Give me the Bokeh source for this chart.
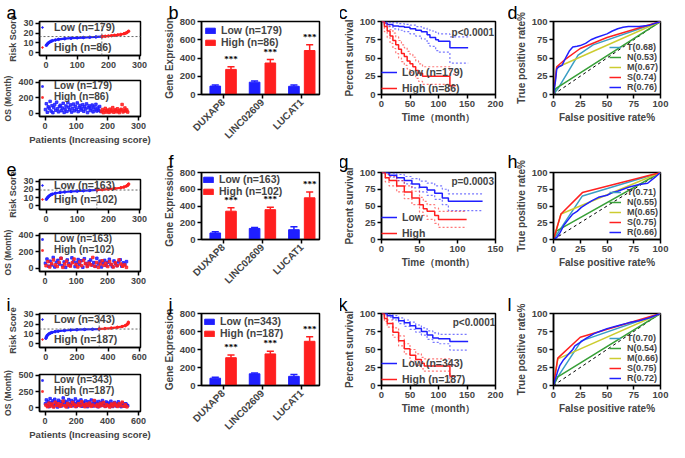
import math
from bokeh.plotting import figure
from bokeh.layouts import row, column
from bokeh.models import Legend, LegendItem, Label, Span
from bokeh.embed import file_html
from bokeh.resources import INLINE

FONT = "Liberation Sans"
BLUE = "#1f1fff"
RED = "#ff1f1f"

# ---------------- data ----------------
# risk score curves (patient index, score)
a_low_x = [1, 3, 6, 10, 15, 20, 30, 40, 60, 80, 100, 120, 140, 160, 179]
a_low_y = [7.5, 8.3, 9.5, 10.5, 11.5, 12.2, 13, 13.6, 14.3, 14.8, 15.2, 15.5, 15.8, 16.1, 16.5]
a_high_x = [180, 190, 200, 210, 220, 230, 240, 250, 255, 260, 265]
a_high_y = [16.6, 16.8, 17.1, 17.4, 17.8, 18.2, 18.7, 19.4, 19.9, 20.7, 22]
a_cut = [179, 16.5]

e_low_x = [1, 3, 6, 10, 15, 20, 30, 45, 60, 80, 100, 120, 140, 163]
e_low_y = [8, 9, 10.5, 12, 13.3, 14.2, 15.3, 16.2, 16.8, 17.4, 17.9, 18.3, 18.7, 19.2]
e_high_x = [164, 180, 200, 220, 240, 250, 258, 262, 265]
e_high_y = [19.3, 19.7, 20.3, 21, 22, 22.8, 24, 25, 26.5]
e_cut = [163, 19.2]

i_low_x = [1, 5, 10, 20, 30, 40, 60, 80, 120, 160, 200, 250, 300, 343]
i_low_y = [5.5, 7, 8.5, 10, 10.8, 11.5, 12.3, 12.8, 13.5, 14, 14.3, 14.6, 14.8, 15]
i_high_x = [344, 380, 420, 460, 490, 510, 520, 528, 530]
i_high_y = [15.1, 15.5, 16, 16.8, 17.6, 18.5, 19.5, 20.5, 22]
i_cut = [343, 15]

# overall survival (months) per patient, every k-th patient
a_os_low = [45, 120, 10, 80, 60, 150, 25, 95, 5, 70, 110, 35, 140, 55, 15, 85, 100, 30, 65, 125,
            8, 50, 90, 20, 135, 75, 40, 105, 12, 60, 115, 28, 88, 48, 130, 18, 72, 98, 38, 62,
            108, 22, 82, 52, 118, 6, 68, 92, 32, 58, 102, 15, 78, 44, 112, 26, 66, 36, 84, 20]
a_os_high = [20, 45, 5, 30, 60, 12, 38, 25, 8, 50, 18, 33, 70, 10, 28, 42, 15, 55, 22, 6,
             35, 48, 110, 14, 30, 65, 25, 40, 12]
e_os_low = [60, 110, 25, 85, 40, 130, 15, 70, 95, 50, 120, 30, 75, 10, 100, 55, 35, 125, 80, 20,
            65, 105, 45, 90, 12, 115, 58, 28, 78, 100, 38, 68, 22, 120, 50, 85, 15, 62, 95, 33,
            72, 108, 42, 18, 88, 55, 30, 75, 102, 25, 65, 45, 80]
e_os_high = [30, 80, 15, 55, 100, 40, 20, 70, 120, 10, 50, 85, 35, 25, 65, 110, 45, 15, 75, 30,
             95, 55, 20, 60, 40, 130, 25, 70, 10, 50, 90, 35, 60, 20, 80, 45, 15, 65, 30, 100,
             50, 25, 40, 10]
i_os_low = [60, 120, 30, 90, 15, 140, 75, 45, 105, 20, 130, 55, 85, 10, 115, 40, 95, 25, 70, 150,
            50, 100, 35, 80, 12, 125, 65, 45, 110, 28, 90, 60, 135, 18, 75, 100, 40, 55, 120, 22,
            85, 65, 30, 105, 48, 15, 92, 70, 38, 118, 58, 25, 80, 100, 42, 68, 14, 95, 52, 30,
            78, 110, 36, 62, 20, 88, 48, 72, 28, 55, 100, 35, 18, 65, 80, 42, 25, 58, 90, 30,
            48, 15, 70, 38, 55, 22, 60, 40, 30]
i_os_high = [40, 15, 70, 25, 55, 10, 85, 35, 60, 20, 45, 100, 30, 12, 65, 40, 22, 80, 50, 18,
             35, 60, 28, 90, 45, 15, 55, 30, 70, 20, 40, 110, 25, 50, 15, 65, 35, 80, 20, 45,
             30, 10, 55, 25, 70, 40, 18, 60, 30, 85, 22, 45, 12]
a_os_low_x = list(range(1, 180, 3))
a_os_high_x = list(range(181, 266, 3))
e_os_low_x = list(range(1, 262, 5))
e_os_high_x = list(range(3, 265, 6))
i_os_low_x = list(range(2, 531, 6))
i_os_high_x = list(range(5, 530, 10))

# gene expression bars
genes = ["DUXAP8", "LINC02609", "LUCAT1"]
b_low, b_low_err = [92, 135, 90], [12, 12, 15]
b_high, b_high_err = [275, 345, 482], [30, 38, 62]
f_low, f_low_err = [78, 132, 117], [15, 10, 35]
f_high, f_high_err = [338, 356, 498], [42, 28, 70]
j_low, j_low_err = [81, 130, 102], [10, 10, 20]
j_high, j_high_err = [309, 351, 491], [30, 30, 52]

# Kaplan-Meier: time, survival, upper CI, lower CI
c_low = ([0, 5, 10, 20, 30, 40, 50, 60, 70, 80, 85, 95, 100, 120, 152],
         [100, 98, 96, 94, 93, 92, 90, 88, 86, 82, 78, 75, 73, 64, 64],
         [100, 100, 99, 98, 97, 96, 95, 93, 91, 89, 87, 85, 83, 79, 79],
         [100, 95, 93, 90, 88, 86, 83, 80, 76, 70, 66, 60, 58, 43, 43])
c_high = ([0, 5, 10, 15, 20, 25, 30, 35, 40, 45, 50, 55, 60, 65, 72, 120, 130],
          [100, 93, 87, 80, 74, 68, 62, 56, 52, 46, 42, 38, 33, 29, 25, 12, 12],
          [100, 98, 94, 89, 84, 79, 74, 68, 64, 59, 55, 51, 46, 42, 38, 28, 28],
          [100, 86, 78, 70, 63, 56, 50, 45, 40, 35, 30, 26, 22, 18, 14, 0, 0])
g_low = ([0, 10, 20, 30, 40, 50, 60, 70, 80, 88, 133],
         [100, 96, 92, 88, 83, 78, 74, 69, 62, 57, 57],
         [100, 99, 97, 94, 91, 87, 84, 80, 75, 68, 68],
         [100, 93, 88, 83, 77, 71, 66, 60, 52, 43, 43])
g_high = ([0, 5, 10, 20, 30, 40, 50, 55, 60, 70, 75, 112],
          [100, 92, 88, 80, 71, 62, 52, 46, 42, 36, 30, 30],
          [100, 97, 94, 88, 80, 72, 63, 57, 52, 47, 42, 42],
          [100, 86, 80, 71, 61, 52, 41, 36, 30, 24, 18, 18])
k_low = ([0, 10, 20, 30, 40, 50, 60, 70, 80, 90, 100, 118, 120, 152],
         [100, 97, 94, 90, 87, 83, 79, 75, 70, 66, 65, 65, 61, 61],
         [100, 99, 97, 94, 91, 88, 84, 80, 76, 73, 71, 71, 71, 71],
         [100, 95, 91, 86, 82, 78, 74, 70, 64, 60, 58, 58, 49, 49])
k_high = ([0, 5, 10, 20, 30, 40, 50, 60, 70, 75, 120, 130],
          [100, 93, 86, 74, 62, 51, 42, 36, 31, 27, 13, 13],
          [100, 97, 91, 80, 69, 58, 50, 44, 39, 37, 28, 28],
          [100, 89, 81, 67, 55, 44, 34, 28, 23, 20, 0, 0])

# ROC curves: (fpr, tpr)
d_roc = {
    "T": ([0, 5, 23, 37, 100], [0, 10, 54, 68, 100]),
    "N": ([0, 2, 100], [0, 8, 100]),
    "M": ([0, 3, 100], [0, 37, 100]),
    "S": ([0, 3, 10, 25, 50, 100], [0, 38, 47, 63, 78, 100]),
    "R": ([0, 2, 3, 5, 8, 12, 15, 18, 22, 25, 30, 35, 40, 50, 55, 60, 65, 70, 80, 90, 100],
          [0, 20, 35, 38, 40, 52, 60, 65, 66, 67, 70, 75, 78, 83, 87, 90, 92, 93, 93, 95, 100]),
}
h_roc = {
    "T": ([0, 5, 27, 100], [0, 12, 65, 100]),
    "N": ([0, 3, 100], [0, 13, 100]),
    "M": ([0, 7, 100], [0, 38, 100]),
    "S": ([0, 7, 27, 100], [0, 38, 70, 100]),
    "R": ([0, 3, 6, 10, 14, 18, 22, 26, 30, 36, 42, 50, 55, 60, 70, 80, 88, 95, 100],
          [0, 3, 10, 22, 30, 38, 42, 48, 52, 58, 63, 66, 70, 72, 78, 82, 84, 93, 100]),
}
l_roc = {
    "T": ([0, 4, 26, 100], [0, 12, 62, 100]),
    "N": ([0, 4, 100], [0, 12, 100]),
    "M": ([0, 4, 100], [0, 37, 100]),
    "S": ([0, 4, 25, 100], [0, 38, 67, 100]),
    "R": ([0, 2, 4, 6, 9, 12, 15, 18, 20, 25, 30, 38, 45, 50, 60, 70, 80, 90, 100],
          [0, 10, 20, 28, 35, 40, 45, 50, 55, 60, 65, 72, 76, 79, 83, 87, 90, 94, 100]),
}
d_auc = {"T": "0.68", "N": "0.53", "M": "0.67", "S": "0.74", "R": "0.76"}
h_auc = {"T": "0.71", "N": "0.55", "M": "0.65", "S": "0.75", "R": "0.66"}
l_auc = {"T": "0.70", "N": "0.54", "M": "0.66", "S": "0.75", "R": "0.72"}
diag = [0, 100]
ROC_COL = {"T": "#3a9ec4", "N": "#38a038", "M": "#cccc30", "S": "#ff2020", "R": "#2020ff"}

# ---------------- helpers ----------------
def base(w, h, xr, yr, bl, br, bt, bb, tick="9.5px", alab="10px"):
    p = figure(width=w, height=h, x_range=xr, y_range=yr, output_backend="svg",
               toolbar_location=None, min_border_left=bl, min_border_right=br,
               min_border_top=bt, min_border_bottom=bb)
    p.outline_line_color = "black"
    p.outline_line_width = 1.5
    p.xgrid.visible = False
    p.ygrid.visible = False
    p.background_fill_color = "white"
    p.border_fill_color = "white"
    for ax in p.axis:
        ax.axis_line_width = 1.5
        ax.major_tick_line_width = 1.5
        ax.major_tick_out = 4
        ax.major_tick_in = 0
        ax.minor_tick_line_color = None
        ax.major_label_text_font = FONT
        ax.major_label_text_font_style = "bold"
        ax.major_label_text_font_size = tick
        ax.major_label_standoff = 2
        ax.axis_label_text_font = FONT
        ax.axis_label_text_font_style = "bold"
        ax.axis_label_text_font_size = alab
        ax.axis_label_standoff = 2
    return p


def letter(p, t, dx, so):
    p.title.text = t
    p.title.align = "left"
    p.title.offset = dx
    p.title.standoff = so
    p.title.text_font = FONT
    p.title.text_font_size = "18px"
    p.title.text_font_style = "normal"
    p.title.text_color = "black"


def legend(p, items, loc, size="10px", lh=10, gw=10, gh=6, sp=0, pad=4, margin=0, standoff=5):
    lg = Legend(items=[LegendItem(label=l, renderers=[r]) for l, r in items], location=loc,
                background_fill_alpha=0, border_line_color=None,
                label_text_font=FONT, label_text_font_style="bold", label_text_font_size=size,
                label_height=lh, glyph_width=gw, glyph_height=gh, spacing=sp, padding=pad,
                margin=margin, label_standoff=standoff, label_text_line_height=1.0)
    p.add_layout(lg)


COLA = dict(w=155, bl=35, br=15)
COLB = dict(w=185, bl=46, br=21)
COLC = dict(w=168, bl=40, br=13)
COLD = dict(w=161, bl=45, br=9)


def risk_panel(h, bt, bb, xr, yr, lowx, lowy, highx, highy, cut, nl, nh, xticks, lt, lso,
               lsp, lpad):
    p = base(COLA["w"], h, xr, yr, COLA["bl"], COLA["br"], bt, bb, tick="9px", alab="9px")
    p.xaxis.ticker = xticks
    p.yaxis.ticker = [0, 10, 20, 30]
    p.yaxis.axis_label = "Risk Score"
    p.add_layout(Span(location=cut[1], dimension="width", line_color="#666666",
                      line_dash="2 2", line_width=1))
    p.add_layout(Span(location=cut[0], dimension="height", line_color="#666666",
                      line_dash="2 2", line_width=1))
    p.line(lowx, lowy, color=BLUE, line_width=2.2)
    p.line(highx, highy, color=RED, line_width=2.2)
    r1 = p.scatter(lowx, lowy, size=2.5, color=BLUE)
    r2 = p.scatter(highx, highy, size=2.5, color=RED)
    legend(p, [(f"Low (n={nl})", r1), (f"High (n={nh})", r2)], "top_left", size="10.5px",
           lh=11, gw=6, gh=4, sp=lsp, pad=lpad, standoff=9)
    letter(p, lt, -33, lso)
    return p


def os_panel(h, bt, bb, xr, yr, lowx, lowy, highx, highy, nl, nh, xticks, yticks, xlabel):
    p = base(COLA["w"], h, xr, yr, COLA["bl"], COLA["br"], bt, bb, tick="9px", alab="8.5px")
    p.xaxis.ticker = xticks
    p.yaxis.ticker = yticks
    p.yaxis.axis_label = "OS (Month)"
    if xlabel:
        p.xaxis.axis_label = "Patients (Increasing score)"
        p.xaxis.axis_label_text_font_size = "9.5px"
    r1 = p.scatter(lowx, lowy, size=2.5, marker="square", color=BLUE, alpha=0.85)
    r2 = p.scatter(highx, highy, size=2.5, marker="square", color=RED, alpha=0.85)
    legend(p, [(f"Low (n={nl})", r1), (f"High (n={nh})", r2)], "top_left", size="10px",
           lh=8, gw=6, gh=4, sp=-1, pad=1, standoff=9)
    return p


def bar_panel(h, bt, bb, low, lowe, high, highe, nl, nh, lt, lso, lpad, lmar):
    p = base(COLB["w"], h, (-0.55, 2.45), (0, 800), COLB["bl"], COLB["br"], bt, bb)
    xs = list(range(len(genes)))
    p.xaxis.ticker = xs
    p.xaxis.major_label_overrides = {i: g for i, g in enumerate(genes)}
    p.xaxis.major_label_orientation = math.pi / 4
    p.xaxis.major_label_text_font_size = "10px"
    p.yaxis.ticker = [0, 200, 400, 600, 800]
    p.yaxis.axis_label = "Gene Expression"
    xl = [x - 0.2 for x in xs]
    xh = [x + 0.2 for x in xs]
    r1 = p.vbar(x=xl, top=low, width=0.27, color=BLUE)
    r2 = p.vbar(x=xh, top=high, width=0.27, color=RED)
    for xx, v, e, col in ((xl, low, lowe, BLUE), (xh, high, highe, RED)):
        tops = [a + b for a, b in zip(v, e)]
        p.segment(x0=xx, y0=v, x1=xx, y1=tops, color=col, line_width=1.5)
        p.segment(x0=[x - 0.09 for x in xx], y0=tops, x1=[x + 0.09 for x in xx], y1=tops,
                  color=col, line_width=1.5)
    htops = [a + b for a, b in zip(high, highe)]
    p.text(x=xh, y=htops, text=["***"] * len(xh), text_align="center",
           text_baseline="bottom", y_offset=-3, text_font_size="9px",
           text_font=FONT, text_font_style="bold", text_color="black")
    legend(p, [(f"Low (n={nl})", r1), (f"High (n={nh})", r2)], "top_left", size="10.5px",
           lh=9, gw=12, gh=7, sp=0, pad=lpad, margin=lmar, standoff=5)
    letter(p, lt, -33, lso)
    return p


def km_panel(h, bt, bb, xmax, xticks, low, high, labels, ptxt, px, py, lt, lso):
    p = base(COLC["w"], h, (0, xmax), (0, 100), COLC["bl"], COLC["br"], bt, bb)
    p.xaxis.ticker = xticks
    p.yaxis.ticker = [0, 25, 50, 75, 100]
    p.xaxis.axis_label = "Time（month）"
    p.yaxis.axis_label = "Percent survival"
    rs = []
    for (t, s, u, l), col in ((low, BLUE), (high, RED)):
        p.step(t, u, mode="after", color=col, line_dash="2 2", line_width=1.2, alpha=0.6)
        p.step(t, l, mode="after", color=col, line_dash="2 2", line_width=1.2, alpha=0.6)
        rs.append(p.step(t, s, mode="after", color=col, line_width=1.5))
    legend(p, list(zip(labels, rs)), "bottom_left", size="10.5px", lh=10, gw=16, gh=6,
           sp=4, pad=5, margin=0, standoff=5)
    p.add_layout(Label(x=px, y=py, text=ptxt, text_font=FONT, text_font_size="10px",
                       text_font_style="bold", text_baseline="middle"))
    letter(p, lt, -43, lso)
    return p


def roc_panel(h, bt, bb, roc, auc, lt, lso):
    p = base(COLD["w"], h, (0, 100), (0, 100), COLD["bl"], COLD["br"], bt, bb)
    p.xaxis.ticker = [0, 25, 50, 75, 100]
    p.yaxis.ticker = [0, 25, 50, 75, 100]
    p.xaxis.axis_label = "False positive rate%"
    p.yaxis.axis_label = "True positive rate%"
    p.line(diag, diag, color="black", line_dash="3 3", line_width=1)
    items = []
    for k in ["T", "N", "M", "S", "R"]:
        x, y = roc[k]
        r = p.line(x, y, color=ROC_COL[k], line_width=1.5)
        items.append((f"{k}({auc[k]})", r))
    legend(p, items, "bottom_right", size="9px", lh=8, gw=12, gh=6, sp=0, pad=2,
           margin=2, standoff=6)
    letter(p, lt, -46, lso)
    return p


# ---------------- row 1 ----------------
ra = risk_panel(72, 21, 17, (-21, 303), (-3, 32), a_low_x, a_low_y, a_high_x, a_high_y, a_cut,
                179, 86, [0, 100, 200, 300], "a", -2, 8, 4)
oa = os_panel(75, 8, 31, (-18, 306), (-45, 420), a_os_low_x, a_os_low, a_os_high_x, a_os_high,
              179, 86, [0, 100, 200, 300], [0, 200, 400], True)
pb = bar_panel(147, 21, 51, b_low, b_low_err, b_high, b_high_err, 179, 86, "b", -2, 5, 3)
pc = km_panel(147, 21, 50, 200, [0, 50, 100, 150, 200], c_low, c_high,
              ["Low (n=179)", "High (n=86)"], "p<0.0001", 123, 85, "c", -2)
pd = roc_panel(147, 21, 50, d_roc, d_auc, "d", -2)

# ---------------- row 2 ----------------
re_ = risk_panel(79, 32, 17, (-21, 303), (-4.5, 32), e_low_x, e_low_y, e_high_x, e_high_y, e_cut,
                 163, 102, [0, 100, 200, 300], "e", 8, 2, 0)
oe = os_panel(66, 7, 21, (-18, 306), (-40, 420), e_os_low_x, e_os_low, e_os_high_x, e_os_high,
              163, 102, [0, 100, 200, 300], [0, 200, 400], False)
pf = bar_panel(145, 25, 48, f_low, f_low_err, f_high, f_high_err, 163, 102, "f", 2, 3, 1)
pg = km_panel(145, 25, 43, 150, [0, 50, 100, 150], g_low, g_high, ["Low", "High"],
              "p=0.0003", 92, 86, "g", 2)
ph = roc_panel(145, 25, 43, h_roc, h_auc, "h", 2)

# ---------------- row 3 ----------------
ri = risk_panel(72, 21, 17, (-40, 608), (-4, 31), i_low_x, i_low_y, i_high_x, i_high_y, i_cut,
                343, 187, [0, 200, 400, 600], "i", -2, 8, 4)
oi = os_panel(78, 10, 31, (-36, 612), (-60, 515), i_os_low_x, i_os_low, i_os_high_x, i_os_high,
              343, 187, [0, 200, 400, 600], [0, 250, 500], True)
pj = bar_panel(150, 21, 55, j_low, j_low_err, j_high, j_high_err, 343, 187, "j", -2, 4, 2)
pk = km_panel(150, 21, 57, 200, [0, 50, 100, 150, 200], k_low, k_high,
              ["Low (n=343)", "High (n=187)"], "p<0.0001", 125, 87, "k", -2)
pl = roc_panel(150, 21, 57, l_roc, l_auc, "l", -2)

page = column(
    row(column(ra, oa, spacing=0), pb, pc, pd, spacing=0),
    row(column(re_, oe, spacing=0), pf, pg, ph, spacing=0),
    row(column(ri, oi, spacing=0), pj, pk, pl, spacing=0),
    spacing=0,
)

open("out.html", "w").write(file_html(page, INLINE))
